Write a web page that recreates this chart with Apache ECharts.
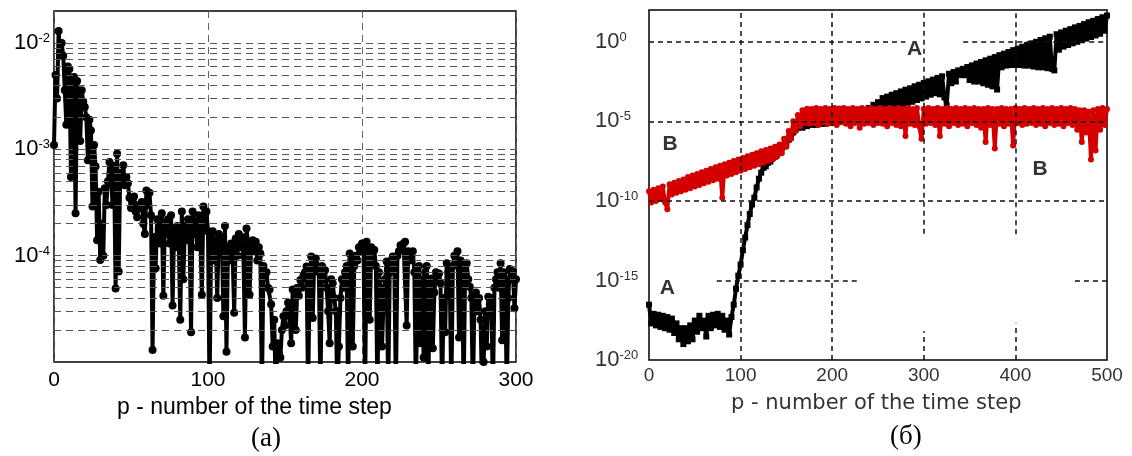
<!DOCTYPE html>
<html>
<head>
<meta charset="utf-8">
<script src="https://cdn.jsdelivr.net/npm/echarts@6/dist/echarts.min.js"></script>
<style>
html, body {margin: 0; padding: 0; background: #fff;}
#main {width: 1132px; height: 456px;}
</style>
</head>
<body>
<div id="main"></div>
<script>
// (a) left panel: error vs time step p = 0 ... 300
var leftErr = [
  1.1e-3, 5e-3, 3e-3, 1.3e-2, 8e-3, 1e-2, 7.6e-3, 3.6e-3, 1.7e-3, 6e-3,        // 0
  5.7e-3, 5.5e-4, 4e-3, 4.8e-3, 2.5e-4, 4.4e-3, 3e-3, 1.2e-3, 3.6e-3, 2.8e-3,  // 10
  2.5e-3, 2e-3, 7.9e-4, 1.9e-3, 1.5e-3, 2.9e-4, 1.1e-3, 6.9e-4, 1.4e-4, 4e-4,  // 20
  9.1e-5, 2e-4, 1e-4, 4.3e-4, 3e-4, 5e-4, 7.6e-4, 6e-4, 3e-4, 7e-4,            // 30
  4.9e-5, 9.1e-4, 7.1e-5, 6e-4, 5e-4, 7.1e-4, 4.6e-4, 5.5e-4, 4.8e-4, 3.5e-4,  // 40
  2.8e-4, 3.2e-4, 3.6e-4, 2.6e-4, 2.3e-4, 3e-4, 2.8e-4, 3.2e-4, 2e-4, 1.6e-4,  // 50
  4.1e-4, 3e-4, 3.9e-4, 2.4e-4, 1.3e-5, 1.5e-4, 7.6e-5, 2.2e-4, 1.8e-4, 1.3e-4, // 60
  2.5e-4, 4.2e-5, 2e-4, 1.6e-4, 2.2e-4, 1.3e-4, 2.4e-4, 3.4e-5, 1.8e-4, 1.2e-4, // 70
  1.9e-4, 1.4e-4, 2.5e-5, 2.6e-4, 6e-5, 1.9e-4, 1.4e-4, 2.2e-4, 1.6e-4, 1.9e-5, // 80
  2.6e-4, 1.6e-4, 2.1e-4, 1.2e-4, 2.4e-4, 1.5e-4, 4.3e-5, 2.9e-4, 1.8e-4, 2.6e-4, // 90
  1.7e-4, 5e-6, 1.3e-4, 1.7e-4, 9e-5, 1.4e-4, 4e-5, 1.6e-4, 1.1e-4, 1.5e-4,    // 100
  2.7e-5, 1.9e-4, 1.25e-5, 1.2e-4, 9e-5, 1.3e-4, 1e-4, 2.9e-5, 1.45e-4, 1e-4,  // 110
  1.6e-4, 1.2e-4, 1.5e-4, 1e-4, 1.7e-5, 1.8e-4, 1.3e-4, 4.3e-5, 1.2e-4, 1.4e-4, // 120
  1.1e-4, 1.35e-4, 9e-5, 1.2e-4, 1.05e-4, 5e-6, 8e-5, 6.3e-5, 7e-5, 5e-5,      // 130
  4.8e-5, 3.5e-5, 1.4e-5, 2.5e-5, 5e-6, 1.5e-5, 1.2e-5, 1.1e-5, 2e-5, 2.7e-5,  // 140
  2.2e-5, 3e-5, 3.6e-5, 2.8e-5, 1.5e-5, 4.8e-5, 3.5e-5, 2e-5, 5e-5, 4.2e-5,    // 150
  5.9e-5, 5e-5, 6.5e-5, 7e-5, 7.9e-5, 5e-6, 6e-5, 9.8e-5, 2.6e-5, 9e-5,        // 160
  9.4e-5, 8e-5, 7e-5, 5e-6, 8e-5, 6e-5, 7.3e-5, 5e-5, 3e-5, 1.5e-5,            // 170
  6e-5, 5.5e-5, 4e-5, 3e-5, 5e-6, 1.4e-5, 4e-5, 6e-5, 5e-5, 7e-5,              // 180
  8e-5, 5e-6, 1.05e-4, 9e-5, 1.4e-5, 8e-5, 1e-4, 9e-5, 1.2e-4, 1.1e-4,         // 190
  1.3e-4, 1.2e-4, 5e-6, 1.35e-4, 1e-4, 2.5e-5, 1.2e-4, 9e-5, 1.13e-4, 8e-5,    // 200
  5e-6, 7e-5, 5e-5, 1.4e-5, 3.8e-5, 6e-5, 8.8e-5, 5e-6, 7e-5, 9e-5,            // 210
  9.8e-5, 8e-5, 5e-6, 1e-4, 1.1e-4, 1.25e-4, 1.2e-4, 1.3e-4, 1.35e-4, 2.2e-5,  // 220
  1.1e-4, 9e-5, 9.8e-5, 1.1e-4, 7e-5, 5e-6, 5.7e-5, 8e-5, 1.5e-5, 6e-5,        // 230
  1.1e-5, 7e-5, 8e-5, 5e-6, 5e-5, 6.1e-5, 1.35e-5, 4.5e-5, 7e-5, 6e-5,         // 240
  6.8e-5, 5.5e-5, 5e-6, 4e-5, 1.9e-5, 8.5e-5, 7e-5, 6e-5, 5e-6, 8e-5,          // 250
  1e-4, 9e-5, 1.1e-4, 1.7e-5, 9e-5, 7e-5, 5e-6, 8e-5, 8.5e-5, 6e-5,            // 260
  5.1e-5, 4e-5, 5e-6, 3.3e-5, 4.5e-5, 3e-5, 4e-5, 2.5e-5, 5e-6, 1e-5,          // 270
  3e-5, 1.4e-5, 4.1e-5, 3.5e-5, 4e-5, 5e-6, 5e-5, 6e-5, 7e-5, 5e-5,            // 280
  8.5e-5, 1.6e-5, 7e-5, 6e-5, 5e-6, 4e-5, 7.5e-5, 6e-5, 7.1e-5, 3.2e-5,        // 290
  6e-5                                                                          // 300
];
var leftStep = 1;

// (б) right panel: curves A and B, p = 0, 2.5, 5 ... 500
var curveA = [
  3e-17, 2e-18, 8e-18, 1.5e-18, 7e-18, 1.2e-18, 6e-18, 1e-18, 5e-18, 8e-19,      // 0
  4e-18, 5e-19, 2e-18, 2e-19, 1e-18, 1e-19, 1e-18, 1.5e-19, 1.5e-18, 2e-19,      // 25
  3e-18, 6e-19, 6e-18, 1e-18, 3e-18, 3e-19, 6e-18, 1e-18, 7e-18, 1.5e-18,        // 50
  8e-18, 1.2e-18, 6e-18, 8e-19, 3e-18, 4e-19, 5e-18, 3e-17, 3e-16, 2e-15,        // 75
  1e-14, 8e-14, 5e-13, 3e-12, 1.5e-11, 6e-11, 1.6e-10, 7e-10, 2.5e-9, 6e-9,      // 100
  1.2e-8, 1.5e-8, 2.5e-8, 3e-8, 5e-8, 6e-8, 1e-7, 1.3e-7, 2e-7, 3e-7,            // 125
  4.5e-7, 7e-7, 1e-6, 2e-6, 3e-6, 4e-6, 6e-6, 4e-6, 8e-6, 5e-6,                  // 150
  9e-6, 6e-6, 1e-5, 6e-6, 1.1e-5, 7e-6, 1.2e-5, 7e-6, 1.2e-5, 8e-6,              // 175
  1.3e-5, 8e-6, 1.4e-5, 9e-6, 1.5e-5, 1e-5, 1.8e-5, 1.2e-5, 2e-5, 1.4e-5,        // 200
  2.5e-5, 1.8e-5, 3.5e-5, 2.5e-5, 5e-5, 3.5e-5, 7e-5, 5e-5, 1.1e-4, 7e-5,        // 225
  1.6e-4, 3e-5, 2.9e-4, 4e-5, 3.6e-4, 5e-5, 4.7e-4, 4e-5, 5.9e-4, 8.5e-5,        // 250
  7.6e-4, 1.1e-4, 9.8e-4, 1.4e-4, 1.2e-3, 1.7e-4, 1.6e-3, 2.2e-4, 2e-3, 2.8e-4,  // 275
  2.6e-3, 3.6e-4, 3.3e-3, 4.7e-4, 4.2e-3, 5.9e-4, 5.4e-3, 5e-4, 6.8e-3, 3.2e-4,  // 300
  1e-4, 9.8e-3, 2.5e-3, 1.26e-2, 3.2e-3, 1.6e-2, 8e-3, 2e-2, 8e-3, 2.6e-2,       // 325
  4e-3, 3.3e-2, 3.2e-3, 4.3e-2, 3.2e-3, 5.4e-2, 2.5e-3, 6.9e-2, 2e-3, 8.7e-2,    // 350
  1.6e-3, 0.11, 1e-3, 0.145, 2.5e-2, 0.18, 3.2e-2, 0.23, 3.5e-2, 0.3,            // 375
  3.5e-2, 0.38, 3.5e-2, 0.49, 3.2e-2, 0.62, 3.2e-2, 0.8, 2.8e-2, 1,              // 400
  2.5e-2, 1.3, 2.5e-2, 1.66, 2.2e-2, 2.1, 2e-2, 1.6e-2, 3, 0.32,                 // 425
  3.9, 0.5, 5, 0.63, 6.3, 0.8, 8.1, 1, 10, 1.26,                                 // 450
  13, 1.6, 17, 2, 21, 2.5, 27, 3.2, 35, 5,                                       // 475
  45                                                                             // 500
];
var curveB = [
  4e-10, 8e-11, 5e-10, 1e-10, 6.3e-10, 1.3e-10, 8e-10, 8e-11, 3e-11, 1.1e-9,     // 0
  2.5e-10, 1.4e-9, 3.2e-10, 1.8e-9, 4e-10, 2.2e-9, 5e-10, 3.2e-9, 6.3e-10, 4e-9, // 25
  8e-10, 5e-9, 1e-9, 6.3e-9, 1.3e-9, 8e-9, 1.6e-9, 1e-8, 2e-9, 1.3e-8,           // 50
  2.5e-9, 1.6e-8, 1.6e-10, 2e-8, 4e-9, 2.5e-8, 5e-9, 3.2e-8, 6.3e-9, 4e-8,       // 75
  8e-9, 5e-8, 1e-8, 6.3e-8, 1.3e-8, 8e-8, 1.6e-8, 1e-7, 2e-8, 1.3e-7,            // 100
  2.5e-8, 1.6e-7, 3.2e-8, 2e-7, 4e-8, 2.5e-7, 6.3e-8, 3.5e-7, 1e-7, 8e-7,        // 125
  2.5e-7, 2.5e-6, 8e-7, 1e-5, 2.5e-6, 2.5e-5, 5e-6, 5e-5, 8e-6, 6.3e-5,          // 150
  7e-6, 6e-5, 8e-6, 7e-5, 6e-6, 6e-5, 9e-6, 7e-5, 7e-6, 6e-5,                    // 175
  8e-6, 7e-5, 6e-6, 6.5e-5, 9e-6, 7e-5, 7e-6, 6e-5, 5e-6, 7e-5,                  // 200
  8e-6, 6e-5, 4e-6, 7e-5, 7e-6, 6e-5, 8e-6, 7e-5, 6e-6, 6e-5,                    // 225
  8e-6, 7e-5, 7e-6, 6e-5, 5e-6, 7e-5, 8e-6, 6e-5, 6e-6, 7e-5,                    // 250
  5e-6, 6e-5, 1.2e-6, 7e-5, 7e-6, 6e-5, 6e-6, 7e-5, 5e-6, 8e-7,                  // 275
  6e-5, 7e-6, 7e-5, 8e-6, 6e-5, 6e-6, 7e-5, 1.2e-6, 6e-5, 7e-6,                  // 300
  7e-5, 5e-6, 6e-5, 8e-6, 7e-5, 6e-6, 6e-5, 7e-6, 7e-5, 5e-6,                    // 325
  6e-5, 8e-6, 7e-5, 6e-6, 6e-5, 4e-6, 6e-5, 5e-7, 7e-5, 6e-6,                    // 350
  6e-5, 2e-7, 6e-5, 7e-6, 7e-5, 5e-6, 6e-5, 7e-6, 6e-5, 3e-7,                    // 375
  7e-5, 8e-6, 6e-5, 6e-6, 7e-5, 7e-6, 6e-5, 8e-6, 7e-5, 6e-6,                    // 400
  6e-5, 7e-6, 7e-5, 5e-6, 6e-5, 8e-6, 7e-5, 6e-6, 6e-5, 7e-6,                    // 425
  7e-5, 5e-6, 6e-5, 8e-6, 7e-5, 6e-6, 6e-5, 3e-6, 5e-5, 5e-7,                    // 450
  5e-5, 2e-6, 4e-5, 4e-8, 5e-5, 1.5e-7, 6e-5, 3e-6, 7e-5, 6e-6,                  // 475
  6e-5                                                                           // 500
];
var rightStep = 2.5;

// tick values and grid lines
var leftTicks = [1e-4, 1e-3, 1e-2];
var leftHLines = [
  2e-5, 3e-5, 4e-5, 5e-5, 6e-5, 7e-5, 8e-5, 9e-5, 1e-4,
  2e-4, 3e-4, 4e-4, 5e-4, 6e-4, 7e-4, 8e-4, 9e-4, 1e-3,
  2e-3, 3e-3, 4e-3, 5e-3, 6e-3, 7e-3, 8e-3, 9e-3, 1e-2
];
var rightTicks = [1e-20, 1e-15, 1e-10, 1e-5, 1];
// grid segments of panel (б): [x0, y0, x1, y1]
var rightGridSegs = [
  [0, 1, 280, 1], [343, 1, 500, 1],
  [0, 1e-5, 500, 1e-5],
  [0, 1e-10, 500, 1e-10],
  [74, 1e-15, 230, 1e-15], [465, 1e-15, 500, 1e-15],
  [100, 1e-20, 100, 1e2], [200, 1e-20, 200, 1e2],
  [300, 8.5e-13, 300, 1e2], [300, 1e-20, 300, 6.3e-19],
  [400, 7.9e-13, 400, 1e2], [400, 1e-20, 400, 2e-18]
];
// curve labels of panel (б): [name, p, value]
var rightNotes = [
  ['B', 23, 3.8e-7], ['A', 20, 3.2e-16], ['A', 290, 3.2e-1], ['B', 427, 1e-8]
];

var FONT = '"Liberation Sans", Arial, sans-serif';

function pairs(arr, step) {
  return arr.map(function (v, i) { return [i * step, v]; });
}

function powLabel(v) {
  var e = Math.round(Math.log10(v));
  return '{b|10}{e|' + e + '}';
}

function richFor(color) {
  return {
    b: {fontSize: 22, fontFamily: FONT, color: color, verticalAlign: 'bottom', lineHeight: 22, padding: [8, 0, 0, 0]},
    e: {fontSize: 13, fontFamily: FONT, color: color, verticalAlign: 'top', lineHeight: 14}
  };
}

var myChart = echarts.init(document.getElementById('main'));

var option = {
  animation: false,
  backgroundColor: '#fff',
  grid: [
    {left: 54, top: 11, width: 462, height: 351, show: true, borderColor: '#000', borderWidth: 1.5},
    {left: 649, top: 10, width: 458, height: 350, show: true, borderColor: '#000', borderWidth: 1.5}
  ],
  xAxis: [
    {
      gridIndex: 0, type: 'value', min: 0, max: 300, interval: 100,
      axisLine: {show: false}, axisTick: {show: false},
      axisLabel: {fontSize: 21, fontFamily: FONT, color: '#000', margin: 8},
      splitLine: {show: true, lineStyle: {type: [7, 5], color: '#666', width: 1}}
    },
    {
      gridIndex: 1, type: 'value', min: 0, max: 500, interval: 100,
      axisLine: {show: false}, axisTick: {show: false},
      axisLabel: {fontSize: 19, fontFamily: FONT, color: '#333', margin: 6},
      splitLine: {show: false}
    }
  ],
  yAxis: [
    {
      gridIndex: 0, type: 'log', logBase: 10, min: 1e-5, max: 2e-2,
      axisLine: {show: false}, axisTick: {show: false}, splitLine: {show: false},
      axisLabel: {customValues: leftTicks, formatter: powLabel, margin: 4, rich: richFor('#000')}
    },
    {
      gridIndex: 1, type: 'log', logBase: 10, min: 1e-20, max: 1e2,
      axisLine: {show: false}, axisTick: {show: false}, splitLine: {show: false},
      axisLabel: {customValues: rightTicks, formatter: powLabel, margin: 54, align: 'left', rich: richFor('#333')}
    }
  ],
  series: [
    {
      // grid lines of (a)
      type: 'line', xAxisIndex: 0, yAxisIndex: 0, data: [], z: 1, silent: true,
      markLine: {
        symbol: 'none', silent: true, precision: 10, label: {show: false},
        lineStyle: {type: [7, 5], color: '#555', width: 1},
        data: leftHLines.map(function (v) { return [{coord: [0, v]}, {coord: [300, v]}]; })
      }
    },
    {
      type: 'line', xAxisIndex: 0, yAxisIndex: 0, z: 3,
      data: pairs(leftErr, leftStep),
      symbol: 'circle', symbolSize: 8, showAllSymbol: true,
      lineStyle: {color: '#000', width: 4},
      itemStyle: {color: '#000'}
    },
    {
      // grid lines + labels of (б)
      type: 'line', xAxisIndex: 1, yAxisIndex: 1, data: [], z: 1, silent: true,
      markLine: {
        symbol: 'none', silent: true, precision: 10, label: {show: false},
        lineStyle: {type: [5, 4], color: '#111', width: 1.5},
        data: rightGridSegs.map(function (s) {
          return [{coord: [s[0], s[1]]}, {coord: [s[2], s[3]]}];
        })
      },
      markPoint: {
        symbol: 'circle', symbolSize: 1, silent: true,
        itemStyle: {color: 'rgba(0,0,0,0)'},
        label: {show: true, position: 'inside', formatter: '{b}', fontSize: 21, fontWeight: 'bold', fontFamily: FONT, color: '#333'},
        data: rightNotes.map(function (n) { return {name: n[0], coord: [n[1], n[2]]}; })
      }
    },
    {
      name: 'A', type: 'line', xAxisIndex: 1, yAxisIndex: 1, z: 3,
      data: pairs(curveA, rightStep),
      symbol: 'rect', symbolSize: 6, showAllSymbol: true,
      lineStyle: {color: '#000', width: 4},
      itemStyle: {color: '#000'}
    },
    {
      name: 'B', type: 'line', xAxisIndex: 1, yAxisIndex: 1, z: 4,
      data: pairs(curveB, rightStep),
      symbol: 'circle', symbolSize: 6, showAllSymbol: true,
      lineStyle: {color: '#d40000', width: 4},
      itemStyle: {color: '#d40000'}
    }
  ],
  graphic: [
    {type: 'text', left: 117, top: 396, style: {text: 'p - number of the time step', font: '23px ' + FONT, fill: '#000'}},
    {type: 'text', left: 731, top: 393, style: {text: 'p - number of the time step', font: '21px "DejaVu Sans", ' + FONT, fill: '#333'}},
    {type: 'text', left: 251, top: 425, style: {text: '(a)', font: '27px "Liberation Serif", "Times New Roman", serif', fill: '#000'}},
    {type: 'text', left: 890, top: 423, style: {text: '(б)', font: '27px "Liberation Serif", "Times New Roman", serif', fill: '#000'}}
  ]
};
myChart.setOption(option);
</script>
</body>
</html>
